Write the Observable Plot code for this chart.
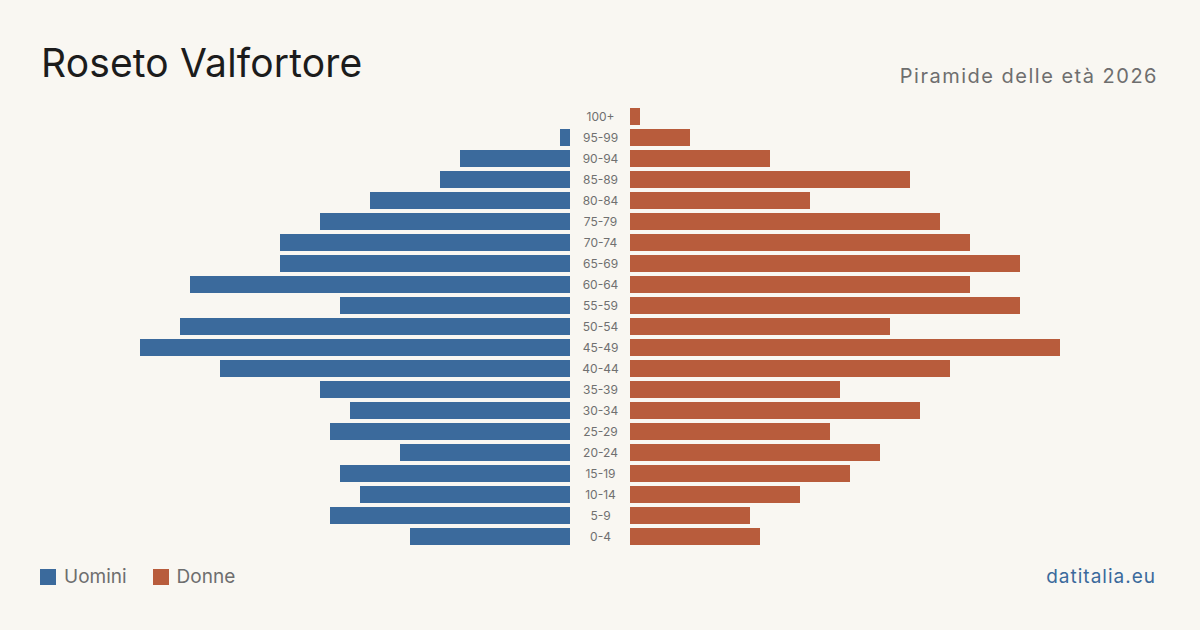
<!DOCTYPE html>
<html>
<head>
<meta charset="utf-8">
<script src="https://cdn.jsdelivr.net/npm/d3@7"></script>
<script src="https://cdn.jsdelivr.net/npm/@observablehq/plot@0.6"></script>
<style>
  html, body { margin: 0; padding: 0; background: #f9f7f2; }
  #page { position: relative; width: 1200px; height: 630px; background: #f9f7f2; font-family: Inter, "Noto Sans", sans-serif; overflow: hidden; }
  #title { position: absolute; left: 41px; top: 43px; font-size: 39px; color: #1c1c1c; letter-spacing: 0.15px; line-height: 1; }
  #subtitle { position: absolute; right: 42px; top: 66px; font-size: 20px; color: #6e6e6e; letter-spacing: 1.5px; line-height: 1; }
  #chart { position: absolute; left: 0; top: 0; }
  #legend { position: absolute; left: 40px; top: 567px; font-size: 19px; color: #6e6e6e; display: flex; align-items: center; line-height: 1; }
  #legend .sw { width: 16px; height: 16px; display: inline-block; margin-right: 8px; }
  #legend .item { display: flex; align-items: center; margin-right: 26px; }
  #source { position: absolute; right: 44px; top: 567px; font-size: 19px; color: #3b6a9c; letter-spacing: 1px; line-height: 1; }
</style>
</head>
<body>
<div id="page">
  <div id="chart"></div>
  <div id="title">Roseto Valfortore</div>
  <div id="subtitle">Piramide delle età 2026</div>
  <div id="legend">
    <span class="item"><span class="sw" style="background:#3b6a9c"></span>Uomini</span>
    <span class="item"><span class="sw" style="background:#b85c3c"></span>Donne</span>
  </div>
  <div id="source">datitalia.eu</div>
</div>
<script>
// Age classes, oldest at the top
const ageGroups = ["100+", "95-99", "90-94", "85-89", "80-84", "75-79", "70-74", "65-69", "60-64", "55-59",
  "50-54", "45-49", "40-44", "35-39", "30-34", "25-29", "20-24", "15-19", "10-14", "5-9", "0-4"];
// Residents per age class
const men   = [0, 1, 11, 13, 20, 25, 29, 29, 38, 23, 39, 43, 35, 25, 22, 24, 17, 23, 21, 24, 16];
const women = [1, 6, 14, 28, 18, 31, 34, 39, 34, 39, 26, 43, 32, 21, 29, 20, 25, 22, 17, 12, 13];

const blue = "#3b6a9c";
const orange = "#b85c3c";
const half = 3; // half of the central gap reserved for the age labels, in x units

const rows = ageGroups.map((age, i) => ({age, men: men[i], women: women[i]}));

const chart = Plot.plot({
  width: 1200,
  height: 630,
  marginLeft: 140,
  marginRight: 140,
  marginTop: 106.5,
  marginBottom: 82.5,
  style: {background: "transparent", fontFamily: "Inter, 'Noto Sans', sans-serif"},
  x: {domain: [-46, 46], axis: null},
  y: {domain: ageGroups, axis: null, paddingInner: 0.19, paddingOuter: 0.095},
  marks: [
    Plot.barX(rows.filter(d => d.men > 0), {y: "age", x1: -half, x2: d => -half - d.men, fill: blue}),
    Plot.barX(rows.filter(d => d.women > 0), {y: "age", x1: half, x2: d => half + d.women, fill: orange}),
    Plot.text(rows, {y: "age", x: 0, text: "age", fill: "#707070", fontSize: 12, textAnchor: "middle"})
  ]
});
document.getElementById("chart").appendChild(chart);
</script>
</body>
</html>
